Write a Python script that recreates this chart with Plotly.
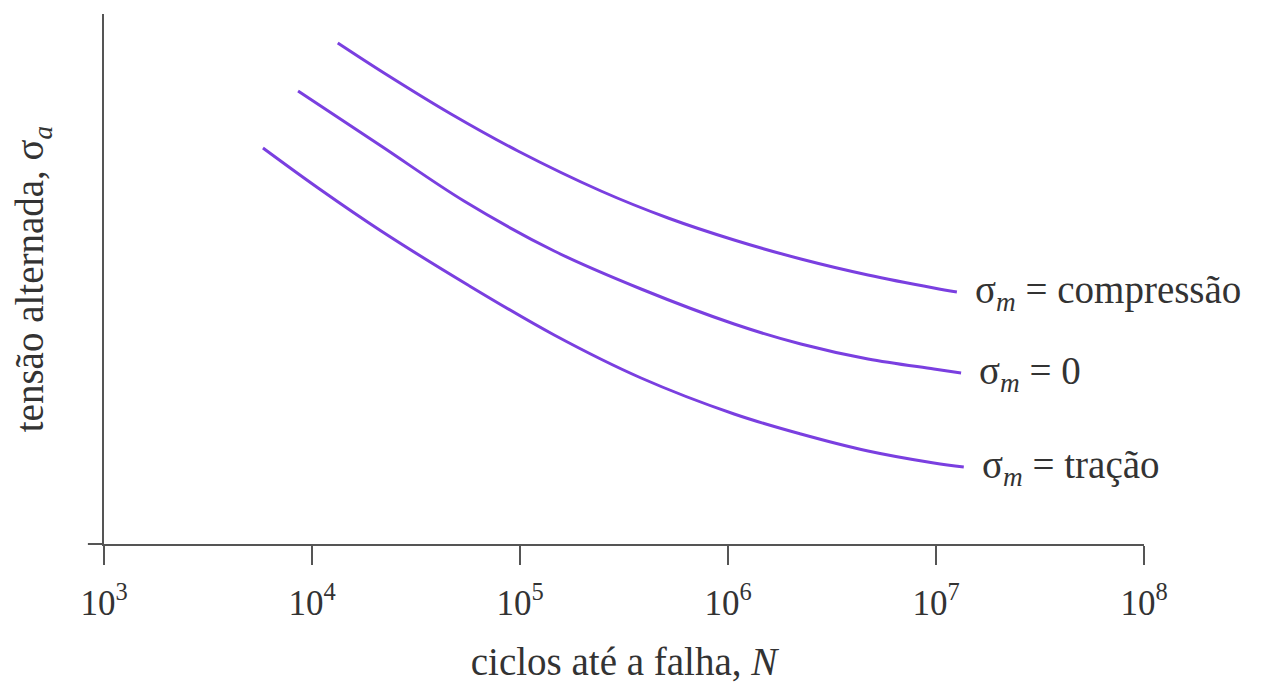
import math
import plotly.graph_objects as go

# ciclos ate a falha (N) e tensao alternada (unidades arbitrarias)
n_compressao = [1.33e4, 2.22e4, 4.66e4, 9.77e4, 2.45e5, 5.15e5, 1.07e6, 2.24e6, 4.71e6, 9.77e6, 1.26e7]
s_compressao = [100.2, 94.2, 86.0, 78.6, 70.6, 65.2, 60.8, 57.0, 53.8, 51.2, 50.4]

n_zero = [8.57e3, 2.15e4, 5.38e4, 1.46e5, 3.82e5, 1.07e6, 2.24e6, 4.71e6, 9.77e6, 1.32e7]
s_zero = [90.6, 79.6, 68.6, 58.6, 51.0, 44.0, 40.0, 37.0, 35.0, 34.2]

n_tracao = [5.81e3, 1.07e4, 2.15e4, 5.62e4, 1.46e5, 3.82e5, 1.07e6, 2.24e6, 4.71e6, 9.77e6, 1.36e7]
s_tracao = [79.2, 71.2, 62.6, 51.8, 41.8, 33.2, 26.0, 22.0, 18.6, 16.2, 15.4]

labels = ['σ<sub><i>m</i></sub> = compressão', 'σ<sub><i>m</i></sub> = 0', 'σ<sub><i>m</i></sub> = tração']
tick_vals = [1e3, 1e4, 1e5, 1e6, 1e7, 1e8]
tick_text = ['10<sup>3</sup>', '10<sup>4</sup>', '10<sup>5</sup>', '10<sup>6</sup>', '10<sup>7</sup>', '10<sup>8</sup>']

line_color = '#7a3fe0'
axis_color = '#555555'
text_color = '#333333'
serif = 'Liberation Serif, Times New Roman, serif'

fig = go.Figure()

series = [(n_compressao, s_compressao), (n_zero, s_zero), (n_tracao, s_tracao)]
for (n, s), label in zip(series, labels):
    fig.add_trace(go.Scatter(x=n, y=s, mode='lines',
                             line=dict(color=line_color, width=3, shape='spline', smoothing=1.0),
                             showlegend=False, hoverinfo='skip'))
    # eixo log: a posicao x da anotacao vai em log10
    fig.add_annotation(x=math.log10(n[-1]), y=s[-1], xref='x', yref='y', text=label, showarrow=False,
                       xanchor='left', yanchor='middle', xshift=16,
                       font=dict(family=serif, size=39, color=text_color))

fig.update_xaxes(type='log', range=[3, 8], tickvals=tick_vals, ticktext=tick_text,
                 showline=True, linecolor=axis_color, linewidth=2, showgrid=False, zeroline=False,
                 ticks='outside', ticklen=19, tickwidth=2, tickcolor=axis_color, ticklabelstandoff=8,
                 tickfont=dict(family=serif, size=35, color=text_color),
                 title=dict(text='ciclos até a falha, <i>N</i>', standoff=26,
                            font=dict(family=serif, size=39, color=text_color)))
fig.update_yaxes(range=[0, 106], showline=True, linecolor=axis_color, linewidth=2, showgrid=False,
                 zeroline=False, showticklabels=False, ticks='',
                 title=dict(text='tensão alternada, σ<sub><i>a</i></sub>', standoff=46,
                            font=dict(family=serif, size=39, color=text_color)))

# pequeno prolongamento do eixo x a esquerda do eixo y
fig.add_shape(type='line', xref='paper', yref='paper', x0=-0.0155, x1=0, y0=0, y1=0,
              line=dict(color=axis_color, width=2))

# a pagina tem ~7px de margem no body, compensada aqui
fig.update_layout(width=1271, height=685, plot_bgcolor='white', paper_bgcolor='white',
                  margin=dict(l=96, r=135, t=6, b=149, autoexpand=False))

fig.write_html('out.html')
